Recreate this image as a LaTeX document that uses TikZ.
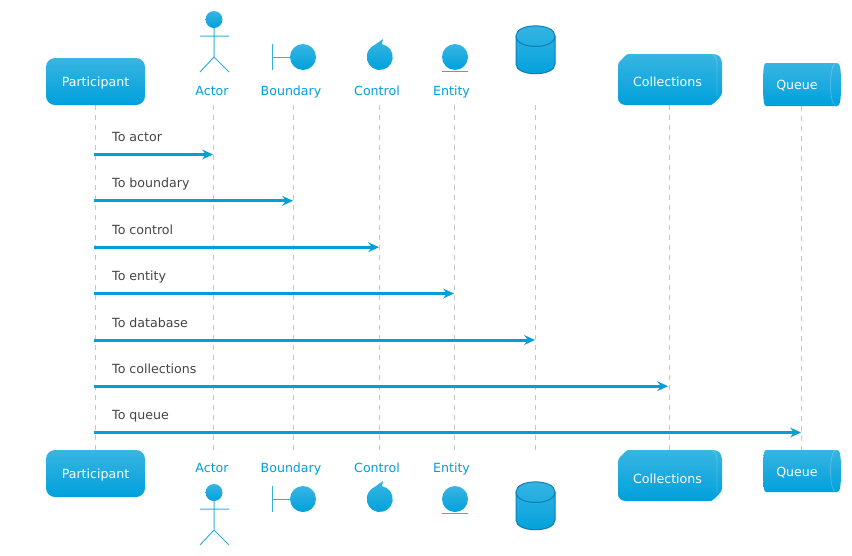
\documentclass[tikz,border=0pt]{standalone}
\usepackage{fontspec}
\setmainfont{DejaVu Sans}
\usetikzlibrary{arrows.meta,shapes.geometric}
\definecolor{topc}{HTML}{38B5E2}
\definecolor{botc}{HTML}{00A0DC}
\definecolor{linec}{HTML}{2FB0DF}
\definecolor{msgc}{HTML}{009FDB}
\definecolor{lifec}{HTML}{C6C6C6}
\definecolor{labc}{HTML}{444444}
\definecolor{dbline}{HTML}{0A7FB5}
\tikzset{
  grad/.style={top color=topc,bottom color=botc,draw=none},
  headtext/.style={font=\fontsize{12.6}{14}\selectfont,text=white,inner sep=0pt,anchor=base},
  nametext/.style={font=\fontsize{12.6}{14}\selectfont,text=msgc,inner sep=0pt,anchor=base},
  partbox/.style={grad,rounded corners=9pt,minimum width=99pt,minimum height=47pt,inner sep=0pt,text height=10.4pt,text depth=0pt,font=\fontsize{12.6}{14}\selectfont,text=white},
  lifeline/.style={draw=lifec,line width=1.2pt,dash pattern=on 5pt off 5pt},
  msg/.style={draw=msgc,line width=3pt,-{Stealth[length=11pt,width=10pt,inset=4pt,line width=0pt]}},
  msglabel/.style={font=\fontsize{12.6}{14}\selectfont,text=labc,inner sep=0pt,anchor=base west},
  glyph/.style={draw=linec,line width=1pt},
}
\newcommand{\actorfig}[1]{%
  \begin{scope}[yshift=#1]
    \shade[grad] (214,19.5) circle (8.5);
    \draw[glyph] (214,28) -- (214,57) (200,36) -- (229,36) (200,72) -- (214,57) -- (229,72);
  \end{scope}}
\newcommand{\boundaryfig}[1]{%
  \begin{scope}[yshift=#1]
    \draw[glyph] (272,44) -- (272,70) (272,57) -- (291,57);
    \shade[grad] (303,57) circle (13);
  \end{scope}}
\newcommand{\controlfig}[1]{%
  \begin{scope}[yshift=#1]
    \shade[grad] (383,39) -- (382,44.2) arc[start angle=-80,end angle=245,radius=13] -- cycle;
  \end{scope}}
\newcommand{\entityfig}[1]{%
  \begin{scope}[yshift=#1]
    \shade[grad] (455,57) circle (13);
    \draw[glyph] (442,71) -- (468,71);
  \end{scope}}
\newcommand{\dbfig}[2]{%
  \begin{scope}[yshift=#1]
    \path[grad,draw=dbline,line width=1pt] (516,36) .. controls (516,22.5) and (555,22.5) .. (555,36)
      -- (555,#2) .. controls (555,#2+13) and (516,#2+13) .. (516,#2) -- cycle;
    \draw[dbline,line width=1pt] (516,36) .. controls (516,50) and (555,50) .. (555,36);
  \end{scope}}
\newcommand{\collfig}[1]{%
  \begin{scope}[yshift=#1]
    \path[grad] (630,54) -- (713,54) .. controls (719,54) and (722,58) .. (722,64) -- (722,92) .. controls (722,95) and (721,96) .. (719,98) -- (714,103) .. controls (712,105) and (711,105) .. (708,105) -- (626,105) .. controls (621,105) and (618,102) .. (618,98) -- (618,66) .. controls (618,63) and (619,62) .. (621,60) -- (625,56) .. controls (627,54) and (628,54) .. (630,54) -- cycle;
    \draw[white,opacity=.22,line width=.8pt] (712,54) .. controls (715,56) and (717,59) .. (717,63) -- (717,96);
  \end{scope}}
\newcommand{\queuefig}[2]{%
  \begin{scope}[yshift=#1]
    \path[grad] (766,63) -- (837,63) .. controls (840,63) and (841,68) .. (841,#2/2+31.5) .. controls (841,#2-5) and (840,#2) .. (837,#2) -- (766,#2) .. controls (764,#2) and (763,#2-6) .. (763,#2/2+31.5) .. controls (763,68) and (764,63) .. (766,63) -- cycle;
    \draw[white,opacity=.22,line width=.8pt] (835,63) .. controls (829,68) and (829,#2-5) .. (835,#2);
  \end{scope}}
\begin{document}
\begin{tikzpicture}[x=1pt,y=-1pt]
\useasboundingbox (0,0) rectangle (852,555);
% lifelines
\coordinate (ltop1) at (95.5,105);  \coordinate (lbot1) at (95.5,450);
\coordinate (ltop2) at (213.5,105);   \coordinate (lbot2) at (213.5,452);
\coordinate (ltop3) at (293.5,105);   \coordinate (lbot3) at (293.5,452);
\coordinate (ltop4) at (379.5,105);   \coordinate (lbot4) at (379.5,452);
\coordinate (ltop5) at (454.5,105);   \coordinate (lbot5) at (454.5,452);
\coordinate (ltop6) at (535.5,105);   \coordinate (lbot6) at (535.5,452);
\coordinate (ltop7) at (669.5,105);   \coordinate (lbot7) at (669.5,450);
\coordinate (ltop8) at (801.5,106);   \coordinate (lbot8) at (801.5,450);
\foreach \i in {1,...,8} {\draw[lifeline] (ltop\i) -- (lbot\i);}
% top heads
\node[partbox] (parttop) at (95.5,81.5) {Participant};
\actorfig{0pt}
\node[nametext] (actortop) at (212,95) {Actor};
\boundaryfig{0pt}
\node[nametext] (boundtop) at (291,95) {Boundary};
\controlfig{0pt}
\node[nametext] (ctrltop) at (377,95) {Control};
\entityfig{0pt}
\node[nametext] (enttop) at (451.5,95) {Entity};
\dbfig{0pt}{64}
\collfig{0pt}
\node[headtext] (colltop) at (667.5,86.7) {Collections};
\queuefig{0pt}{106}
\node[headtext] (queuetop) at (797,89.5) {Queue};
% bottom heads
\node[partbox] (partbot) at (95.5,473.5) {Participant};
\node[nametext] (actorbot) at (212,472) {Actor};
\actorfig{-473pt}
\node[nametext] (boundbot) at (291,472) {Boundary};
\boundaryfig{-442pt}
\node[nametext] (ctrlbot) at (377,472) {Control};
\controlfig{-442pt}
\node[nametext] (entbot) at (451.5,472) {Entity};
\entityfig{-442pt}
\dbfig{-456pt}{64}
\collfig{-396pt}
\node[headtext] (collbot) at (667.5,483) {Collections};
\queuefig{-387pt}{105}
\node[headtext] (queuebot) at (797,476.8) {Queue};
% messages
\coordinate (s1) at (94,154.5);   \coordinate (e1) at (213,154.5);
\coordinate (s2) at (94,200.8); \coordinate (e2) at (293,200.8);
\coordinate (s3) at (94,247.2);   \coordinate (e3) at (379,247.2);
\coordinate (s4) at (94,293.5); \coordinate (e4) at (454,293.5);
\coordinate (s5) at (94,340);   \coordinate (e5) at (535,340);
\coordinate (s6) at (94,386.2);   \coordinate (e6) at (668,386.2);
\coordinate (s7) at (94,432.5); \coordinate (e7) at (801,432.5);
\foreach \i in {1,...,7} {\draw[msg] (s\i) -- (e\i);}
\node[msglabel] (m1) at (112,141.3) {To actor};
\node[msglabel] (m2) at (112,187.8) {To boundary};
\node[msglabel] (m3) at (112,234.2) {To control};
\node[msglabel] (m4) at (112,280.6) {To entity};
\node[msglabel] (m5) at (112,327) {To database};
\node[msglabel] (m6) at (112,373.4) {To collections};
\node[msglabel] (m7) at (112,419.8) {To queue};
\end{tikzpicture}
\end{document}
